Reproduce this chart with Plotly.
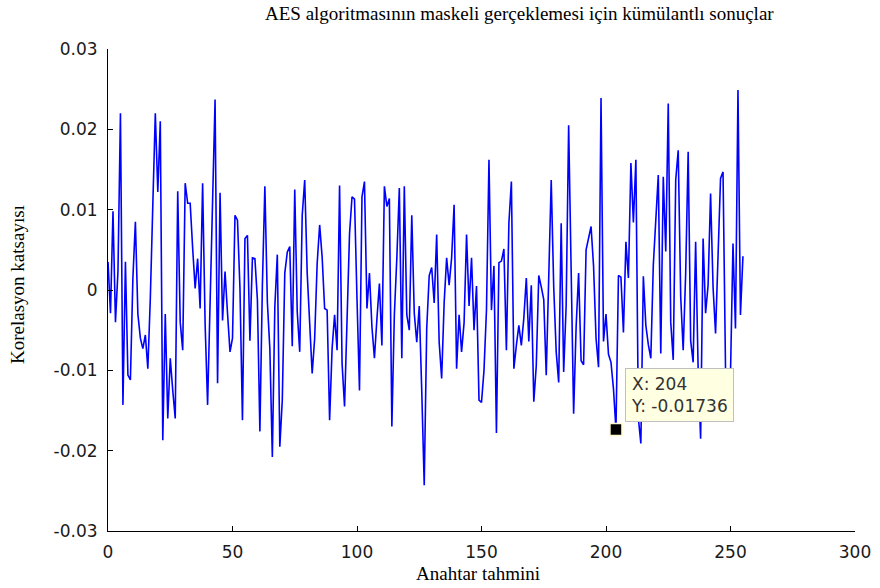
import plotly.graph_objects as go

# Correlation coefficient for each of the 256 key guesses (units of 1e-3)
key_guess = list(range(256))
corr_milli = [
    3.5, -2.9, 9.8, -4.0, 2.3, 22.0, -14.3, 3.5, -10.6, -11.2,
    1.5, 8.5, -3.0, -6.0, -7.3, -5.6, -9.8, -1.0, 10.6, 22.0,
    12.2, 21.0, -18.7, -3.0, -16.0, -8.5, -12.5, -16.0, 12.3, -4.0,
    -7.5, 13.3, 10.8, 10.8, 5.2, 0.2, 3.9, -2.3, 13.3, -4.2,
    -14.3, -1.1, 14.1, 23.7, -11.6, 12.1, -3.8, 2.3, -2.9, -7.7,
    -6.0, 9.3, 8.7, 0.2, -16.2, 6.4, 6.8, -6.3, 4.0, 3.9,
    -1.2, -17.6, 0.6, 12.9, -1.5, -7.3, -20.8, -2.1, 4.4, -19.5,
    -13.7, 2.1, 4.7, 5.4, -7.0, 12.5, -2.7, -7.7, 9.3, 13.7,
    2.1, -5.0, -10.4, -6.0, 3.3, 8.1, 4.1, -2.3, -2.5, -16.2,
    -7.3, -3.1, -7.5, 13.0, -9.1, -14.5, -2.3, 7.0, 11.6, 11.3,
    -1.1, -12.5, 11.6, 13.5, -2.3, 2.1, -4.6, -8.5, -3.6, 0.8,
    -6.9, 12.9, 10.4, 11.4, -17.0, -3.1, 4.0, 12.7, -8.5, 12.9,
    -3.1, -5.0, 9.3, -2.9, -6.5, -2.0, -12.5, -24.3, -4.8, 1.8,
    2.8, -1.6, 6.9, -6.5, -11.0, -1.6, 4.0, 0.6, 4.0, 10.6,
    -9.8, -3.1, -7.7, -4.1, 6.9, -2.0, 4.0, -5.0, 0.5, -13.7,
    -14.0, -10.0, -2.5, 16.2, -2.5, 3.0, -17.8, 3.4, 3.6, 5.1,
    -7.5, 8.3, 13.5, -9.8, -6.9, -4.4, -6.9, -3.5, 1.5, -6.4,
    0.6, -13.9, -9.4, 1.8, 0.4, -1.2, -10.6, 3.4, 13.7, 0.4,
    -7.7, -11.5, 8.3, -10.2, -1.9, 20.5, 2.1, -15.4, -4.6, 2.1,
    -8.8, -9.3, 5.0, 6.5, 7.9, 3.0, -6.0, -9.6, 23.9, -6.4,
    -3.0, -8.0, -9.0, -12.3, -17.36, 1.8, 1.6, -5.3, 6.0, 1.5,
    15.8, 8.4, 16.2, -16.0, -19.1, 1.7, -4.4, -6.8, -8.5, 3.1,
    9.5, 14.3, -7.9, 14.1, 4.8, 23.2, -4.0, -8.7, 13.7, 17.4,
    -0.8, -7.5, 2.1, 17.2, -6.3, -9.0, 6.0, -9.8, -18.5, 6.4,
    -2.9, 0.6, 12.0, 0.3, -5.4, 4.5, 13.9, 14.7, -9.8, -10.6,
    -10.5, 5.8, -4.8, 24.9, -3.1, 4.2,
]
corr = [v / 1000.0 for v in corr_milli]

# Highlighted data point
tip_x = 204
tip_y = corr[tip_x]

x_ticks = [0, 50, 100, 150, 200, 250, 300]
x_tick_text = ["0", "50", "100", "150", "200", "250", "300"]
y_ticks = [-0.03, -0.02, -0.01, 0, 0.01, 0.02, 0.03]
y_tick_text = ["-0.03", "-0.02", "-0.01", "0", "0.01", "0.02", "0.03"]

title_text = "AES algoritmasının maskeli gerçeklemesi için kümülantlı sonuçlar"
x_label = "Anahtar tahmini"
y_label = "Korelasyon katsayısı"

W, H = 880, 588
L, R, T, B = 108, 25, 49, 57

fig = go.Figure()
fig.add_trace(go.Scatter(
    x=key_guess, y=corr, mode="lines",
    line=dict(color="#0000ff", width=1.6),
    hoverinfo="skip", showlegend=False,
))
fig.add_trace(go.Scatter(
    x=[tip_x], y=[tip_y], mode="markers",
    marker=dict(symbol="square", size=12, color="black",
                line=dict(color="#fffbd0", width=1.5)),
    hoverinfo="skip", showlegend=False,
))

sans = "DejaVu Sans, Arial, sans-serif"
axis_common = dict(
    showline=True, linecolor="black", linewidth=1,
    ticks="inside", ticklen=5, tickcolor="black", tickwidth=1,
    showgrid=False, zeroline=False, mirror=False, automargin=False,
    tickfont=dict(family=sans, size=17, color="#1a1a1a"),
    ticklabelstandoff=6,
)

fig.update_layout(
    width=W, height=H,
    margin=dict(l=L, r=R, t=T, b=B),
    paper_bgcolor="white", plot_bgcolor="white",
    xaxis=dict(range=[0, 300], tickvals=x_ticks, ticktext=x_tick_text, **axis_common),
    yaxis=dict(range=[-0.03, 0.03], tickvals=y_ticks, ticktext=y_tick_text, **axis_common),
    showlegend=False,
)

serif = "Liberation Serif, Times New Roman, serif"
plot_w = W - L - R
plot_h = H - T - B

fig.add_annotation(
    text=title_text, xref="paper", yref="paper",
    x=(519 - L) / plot_w, y=1 + (T - 13) / plot_h,
    xanchor="center", yanchor="middle", showarrow=False,
    font=dict(family=serif, size=19, color="black"),
)
fig.add_annotation(
    text=x_label, xref="paper", yref="paper",
    x=(478 - L) / plot_w, y=-(573 - (H - B)) / plot_h,
    xanchor="center", yanchor="middle", showarrow=False,
    font=dict(family=serif, size=19, color="black"),
)
fig.add_annotation(
    text=y_label, xref="paper", yref="paper",
    x=-(L - 17) / plot_w, y=((H - B) - 285) / plot_h,
    xanchor="center", yanchor="middle", showarrow=False, textangle=-90,
    font=dict(family=serif, size=19, color="black"),
)

# Data tip box next to the highlighted point
fig.add_annotation(
    text=f"X: {tip_x}<br>Y: {tip_y:.5f}",
    x=tip_x, y=tip_y, xref="x", yref="y",
    xanchor="left", yanchor="bottom", showarrow=False, align="left",
    xshift=9, yshift=7,
    bgcolor="#ffffe1", bordercolor="#c0c0c0", borderwidth=1, borderpad=5,
    font=dict(family=sans, size=17, color="#333333"),
)

fig.write_html("out.html")
